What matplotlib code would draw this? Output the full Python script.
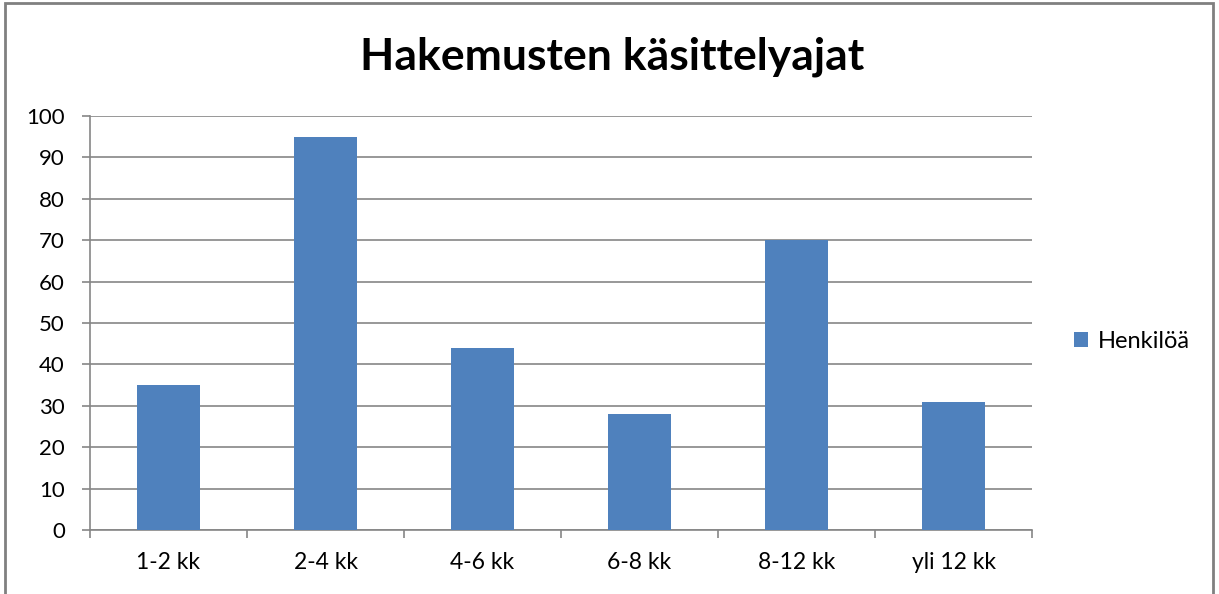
import matplotlib
matplotlib.use("Agg")
import matplotlib.pyplot as plt
from matplotlib.patches import Rectangle
import numpy as np

categories = ["1-2 kk", "2-4 kk", "4-6 kk", "6-8 kk", "8-12 kk", "yli 12 kk"]
values = [35, 95, 44, 28, 70, 31]
series_name = "Henkilöä"
title = "Hakemusten käsittelyajat"
yticks = list(range(0, 101, 10))

plt.rcParams['font.family'] = ['Lato', 'DejaVu Sans']

fig = plt.figure(figsize=(12.19, 5.94), dpi=100)
ax = fig.add_axes([90/1219, 1-530/594, 942/1219, 414/594])

x = np.arange(len(categories))
bars = ax.bar(x, values, width=0.4, color="#4F81BD", label=series_name, zorder=3)

ax.set_xlim(-0.5, len(categories)-0.5)
ax.set_ylim(0, 100)
ax.set_yticks(yticks)
ax.set_yticklabels([str(t) for t in yticks], fontsize=16)
ax.set_xticks(x)
ax.set_xticklabels(categories, fontsize=16.5)
ax.set_xticks(np.arange(len(categories)+1)-0.5, minor=True)

ax.grid(axis='y', color="#868686", linewidth=1.2, zorder=0)
ax.tick_params(axis='x', which='major', length=0, pad=16)
ax.tick_params(axis='x', which='minor', length=6, width=1.2, color="#868686", direction='out')
ax.tick_params(axis='y', which='major', length=6, width=1.2, color="#868686", pad=12)

for s in ['top', 'right']:
    ax.spines[s].set_visible(False)
for s in ['left', 'bottom']:
    ax.spines[s].set_color("#868686")
    ax.spines[s].set_linewidth(1.2)

fig.text(612/1219, 1-57/594, title, ha='center', va='center', fontsize=32, fontweight='bold')

leg = ax.legend(loc='center left', bbox_to_anchor=(1074/942 - 90/942, 0.455), frameon=False,
                fontsize=17, handlelength=0.6, handleheight=0.6, handletextpad=0.4, borderaxespad=0,
                borderpad=0)

fig.patches.append(Rectangle((5/1219, -0.1), 1208/1219, 1.1 - 3/594, transform=fig.transFigure,
                             fill=False, edgecolor="#808080", linewidth=2.0))

fig.savefig("out.png", dpi=100)
